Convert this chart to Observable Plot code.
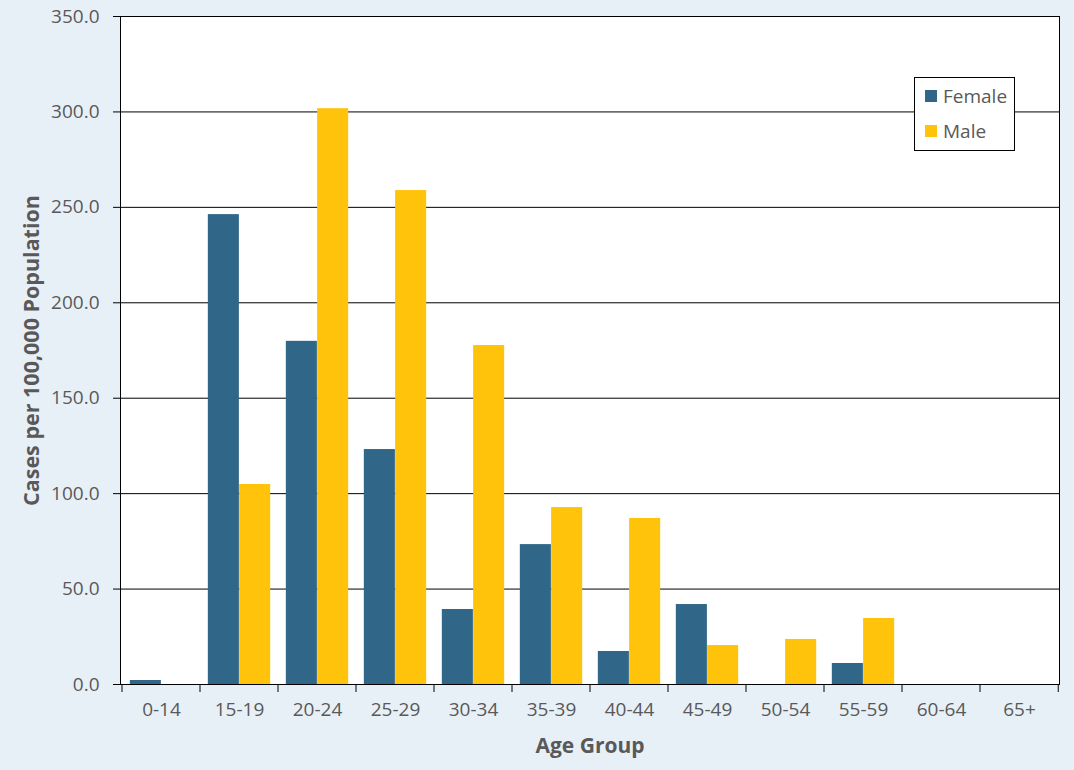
<!DOCTYPE html>
<html>
<head>
<meta charset="utf-8">
<script src="https://cdn.jsdelivr.net/npm/d3@7"></script>
<script src="https://cdn.jsdelivr.net/npm/@observablehq/plot@0.6"></script>
<style>
  html, body { margin: 0; padding: 0; background: #E8F0F7; }
  #wrap { position: relative; width: 1074px; height: 770px; background: #E8F0F7; font-family: "Open Sans", "Noto Sans", sans-serif; }
  #legend { position: absolute; left: 914px; top: 77px; width: 99px; height: 72px; background: #fff; border: 1px solid #000; color: #595959; font-size: 19px; }
  .item { position: absolute; left: 10px; display: flex; align-items: center; height: 22px; }
  .sw { width: 12px; height: 12px; margin-right: 6px; }
</style>
</head>
<body>
<div id="wrap"><div id="legend"></div></div>
<script>
const ageGroups = ["0-14","15-19","20-24","25-29","30-34","35-39","40-44","45-49","50-54","55-59","60-64","65+"];
const femaleValues = [2.1, 246.2, 179.8, 123.1, 39.3, 73.3, 17.3, 41.9, 0, 11.0, 0, 0];
const maleValues = [0, 104.8, 301.7, 258.8, 177.6, 92.7, 87.0, 20.4, 23.6, 34.6, 0, 0];
const seriesNames = ["Female", "Male"];
const seriesColors = ["#306687", "#FFC30B"];
const yTicks = [0, 50, 100, 150, 200, 250, 300, 350];
const yTitle = "Cases per 100,000 Population";
const xTitle = "Age Group";

const data = [];
ageGroups.forEach((a, i) => {
  data.push({age: a, sex: seriesNames[0], value: femaleValues[i]});
  data.push({age: a, sex: seriesNames[1], value: maleValues[i]});
});

const W = 1074, H = 770, mL = 120, mR = 15, mT = 16, mB = 86;
const bw = (W - mL - mR) / ageGroups.length;

const boundaryTicks = (index, scales, values, dims) => {
  const g = d3.create("svg:g");
  const x = scales.x;
  const y0 = dims.height - dims.marginBottom;
  const xs = ageGroups.map(a => x(a));
  xs.push(x(ageGroups[ageGroups.length - 1]) + bw);
  for (const xv of xs) {
    g.append("line").attr("x1", xv).attr("x2", xv).attr("y1", y0).attr("y2", y0 + 8)
      .attr("stroke", "black").attr("stroke-width", 1);
  }
  return g.node();
};

const chart = Plot.plot({
  width: W, height: H,
  marginLeft: mL, marginRight: mR, marginTop: mT, marginBottom: mB,
  style: {background: "transparent", fontFamily: "'Open Sans', 'Noto Sans', sans-serif", color: "#595959", fontSize: "19px"},
  x: {type: "band", domain: ageGroups, padding: 0, axis: null},
  y: {domain: [0, 350], axis: null},
  color: {domain: seriesNames, range: seriesColors},
  marks: [
    Plot.frame({fill: "white"}),
    Plot.gridY(yTicks, {stroke: "black", strokeOpacity: 1}),
    Plot.barY(data.filter(d => d.sex === "Female"), {x: "age", y: "value", fill: "sex", insetLeft: bw * 0.1, insetRight: bw * 0.5}),
    Plot.barY(data.filter(d => d.sex === "Male"), {x: "age", y: "value", fill: "sex", insetLeft: bw * 0.5, insetRight: bw * 0.1}),
    Plot.frame({stroke: "black"}),
    Plot.axisY({ticks: yTicks, tickSize: 7, tickPadding: 14, tickFormat: d => d.toFixed(1), fontSize: 19, stroke: "black", label: null}),
    Plot.axisX({tickSize: 0, tickPadding: 18, fontSize: 19, label: null}),
    boundaryTicks,
    Plot.text([yTitle], {frameAnchor: "left", textAnchor: "middle", lineAnchor: "middle", dx: -88, rotate: -90, fontSize: 21.5, fontWeight: "bold", fill: "#595959", text: d => d}),
    Plot.text([xTitle], {frameAnchor: "bottom", textAnchor: "middle", lineAnchor: "middle", dy: 62, fontSize: 21, fontWeight: "bold", fill: "#595959", text: d => d})
  ]
});
document.getElementById("wrap").prepend(chart);

const legend = document.getElementById("legend");
seriesNames.forEach((n, i) => {
  const it = document.createElement("div");
  it.className = "item";
  it.style.top = (7 + i * 35) + "px";
  it.innerHTML = `<span class="sw" style="background:${seriesColors[i]}"></span><span>${n}</span>`;
  legend.appendChild(it);
});
</script>
</body>
</html>
